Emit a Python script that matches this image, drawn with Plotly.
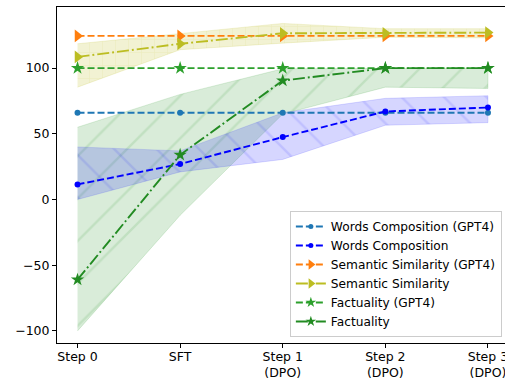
import plotly.graph_objects as go

categories = ["Step 0", "SFT", "Step 1<br>(DPO)", "Step 2<br>(DPO)", "Step 3<br>(DPO)"]

wc_gpt4 = [66, 66, 66, 66, 66]
wc = [11.5, 27, 47.5, 67, 70]
wc_lo = [0, 21, 30.5, 56.5, 58.5]
wc_hi = [40, 37, 66, 77, 79]

ss_gpt4 = [124.5, 124.5, 124.5, 124.5, 124.5]
ss = [108.5, 118.5, 126.5, 126.5, 127]
ss_lo = [85.5, 114, 119, 123.5, 123]
ss_hi = [118.5, 126.5, 134, 130, 130]

fa_gpt4 = [100, 100, 100, 100, 100]
fa = [-61, 34, 90.5, 100, 100]
fa_lo = [-100, -12, 65, 85.5, 84.5]
fa_hi = [55, 80, 99.5, 100, 100]

DASH = "7px,3px"
DASHDOT = "12px,3px,1.9px,3px"

fig = go.Figure()


def band(lo, hi, fill, fg, shape, size):
    fig.add_trace(go.Scatter(
        x=categories + categories[::-1],
        y=hi + lo[::-1],
        fill="toself", mode="lines", line=dict(width=0.6, color=fg),
        fillcolor=fill,
        fillpattern=dict(shape=shape, fgcolor=fg, bgcolor=fill, size=size, solidity=0.08),
        hoverinfo="skip", showlegend=False))


band(fa_lo, fa_hi, "rgba(0,128,0,0.15)", "rgba(0,128,0,0.22)", "/", 30)
band(wc_lo, wc_hi, "rgba(0,0,255,0.16)", "rgba(0,0,255,0.2)", "\\", 30)
band(ss_lo, ss_hi, "rgba(188,189,34,0.2)", "rgba(188,189,34,0.28)", "+", 13)


def line(y, name, color, dash, symbol, msize, lsize):
    fig.add_trace(go.Scatter(
        x=categories, y=y, name=name, mode="lines+markers", showlegend=False,
        line=dict(color=color, width=1.9, dash=dash),
        marker=dict(color=color, symbol=symbol, size=msize, line=dict(width=0))))
    fig.add_trace(go.Scatter(
        x=[None], y=[None], name=name, mode="lines+markers",
        line=dict(color=color, width=1.9, dash=dash),
        marker=dict(color=color, symbol=symbol, size=lsize, line=dict(width=0))))


line(wc_gpt4, "Words Composition (GPT4)", "#1f77b4", DASH, "circle", 6, 5)
line(wc, "Words Composition", "#0000ff", DASH, "circle", 6, 5)
line(ss_gpt4, "Semantic Similarity (GPT4)", "#ff7f0e", DASH, "triangle-right", 11, 9)
line(ss, "Semantic Similarity", "#bcbd22", DASHDOT, "triangle-right", 11, 9)
line(fa_gpt4, "Factuality (GPT4)", "#2ca02c", DASH, "star", 10, 8)
line(fa, "Factuality", "#228b22", DASHDOT, "star", 10, 8)

fig.update_layout(
    width=505, height=378,
    margin=dict(l=57, r=0, t=7, b=35),
    paper_bgcolor="white", plot_bgcolor="white",
    font=dict(family="DejaVu Sans", size=12.5, color="black"),
    legend=dict(x=0.993, y=0.018, xanchor="right", yanchor="bottom",
                bgcolor="rgba(255,255,255,0.8)", bordercolor="#cccccc", borderwidth=1,
                font=dict(size=12.2), tracegroupgap=0, itemwidth=30),
    xaxis=dict(range=[-0.2, 4.166], showgrid=False, zeroline=False, automargin=False,
               showline=True, linecolor="black", linewidth=1, mirror=True,
               ticks="outside", ticklen=4, tickcolor="black", ticklabelstandoff=-2,
               tickfont=dict(size=12.5)),
    yaxis=dict(range=[-109.2, 146.5], showgrid=False, zeroline=False, automargin=False,
               showline=True, linecolor="black", linewidth=1,
               ticks="outside", ticklen=4, tickcolor="black",
               tickvals=[-100, -50, 0, 50, 100], tickfont=dict(size=12.5)),
)

fig.write_html("out.html", config={"displayModeBar": False},
               post_script="document.body.style.margin='0';document.body.style.overflow='hidden';")
